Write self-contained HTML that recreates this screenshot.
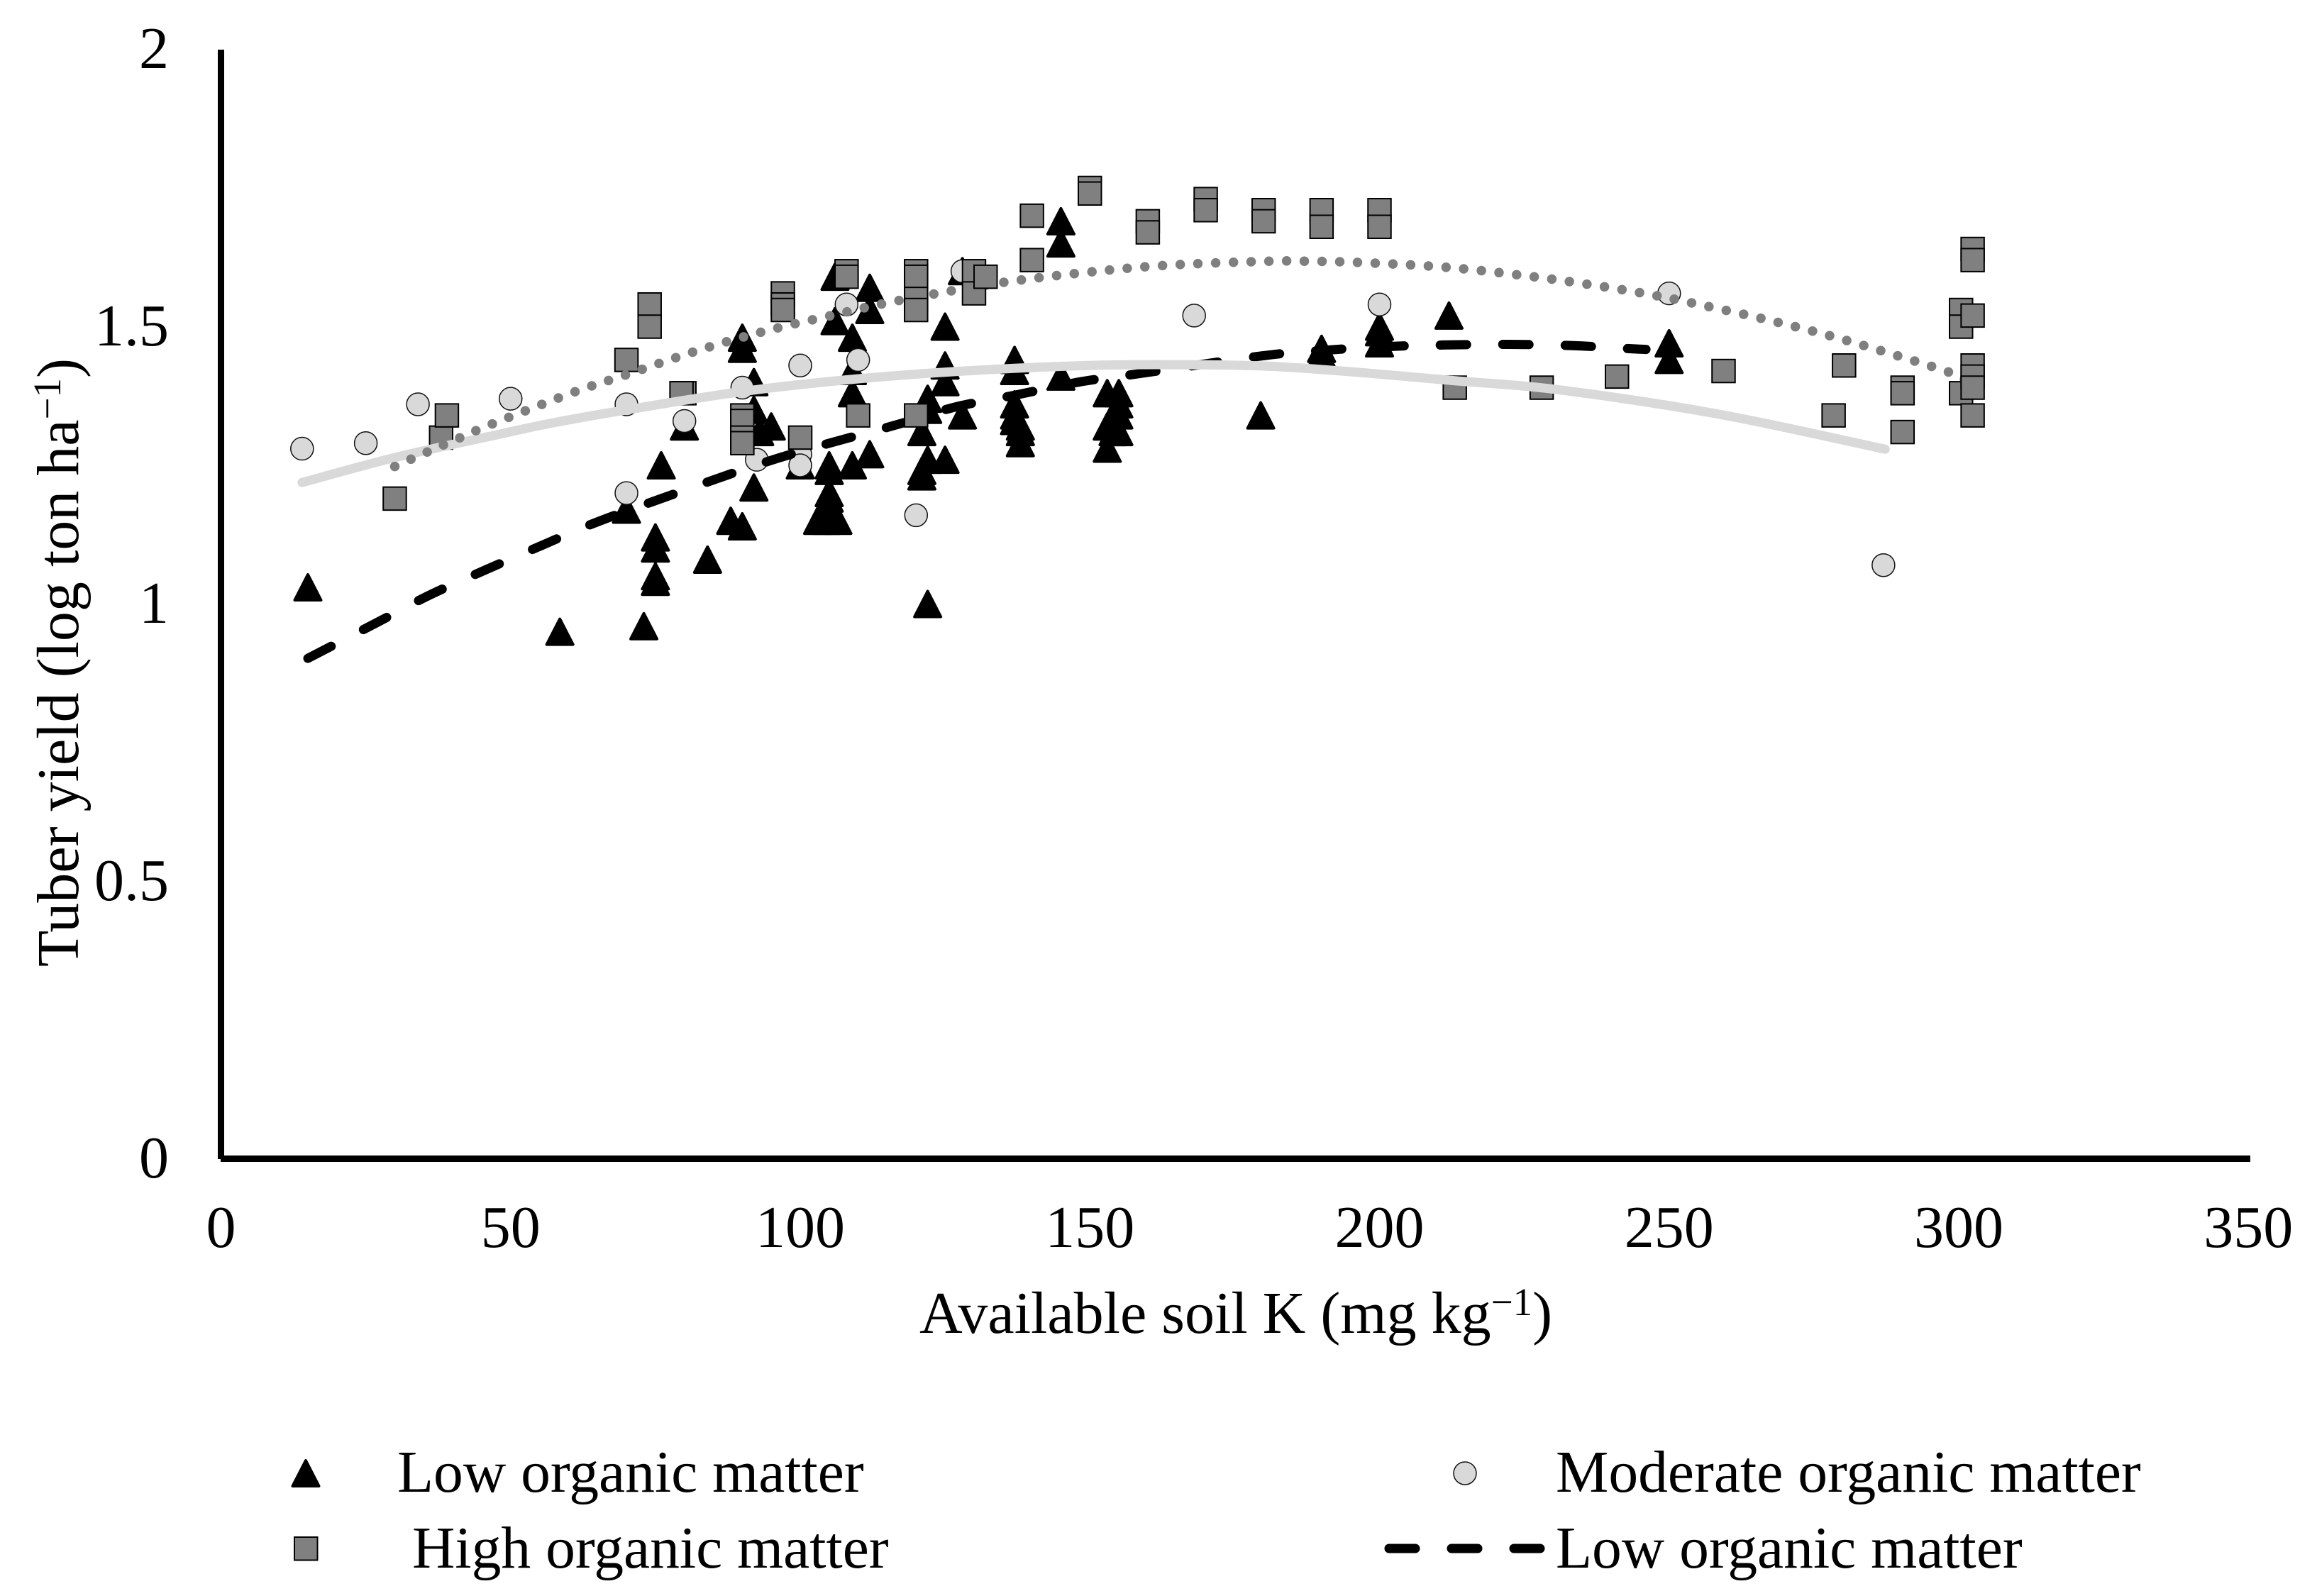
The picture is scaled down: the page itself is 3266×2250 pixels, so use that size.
<!DOCTYPE html>
<html lang="en">
<head>
<meta charset="utf-8">
<title>Tuber yield vs available soil K</title>
<style>
html,body{margin:0;padding:0;background:#fff}
svg{display:block}
text{font-family:"Liberation Serif",serif;font-size:84px;fill:#000}
.legend-text{font-size:83.6px}
</style>
</head>
<body>
<svg id="chart" xmlns="http://www.w3.org/2000/svg" width="3266" height="2250" viewBox="0 0 3266 2250">
  <rect x="0" y="0" width="3266" height="2250" fill="#fff"/>
  <g id="plot"></g>
  <rect x="307" y="70" width="9" height="1564" fill="#000"/>
  <rect x="311" y="1629" width="2861" height="9" fill="#000"/>
  <g id="ticks"></g>
  <text x="1296" y="1879">Available soil K (mg kg<tspan font-size="55" dy="-25">−1</tspan><tspan dy="25">)</tspan></text>
  <text transform="translate(110,1363) rotate(-90)" x="0" y="0">Tuber yield (log ton ha<tspan font-size="55" dy="-25">−1</tspan><tspan dy="25">)</tspan></text>
  <g>
    <polygon points="431,2059 449.5,2095 412.5,2095" fill="#000" stroke="#000" stroke-width="4" stroke-linejoin="round"/>
    <text class="legend-text" x="560" y="2103">Low organic matter</text>
    <circle cx="2065" cy="2077" r="16" fill="#d9d9d9" stroke="#111" stroke-width="1.5"/>
    <text class="legend-text" x="2193" y="2103">Moderate organic matter</text>
    <rect x="415" y="2167" width="32.5" height="32.5" fill="#808080" stroke="#000" stroke-width="2"/>
    <text class="legend-text" x="581" y="2210">High organic matter</text>
    <line x1="1958" y1="2183" x2="2172" y2="2183" stroke="#000" stroke-width="13" stroke-linecap="round" stroke-dasharray="37 51"/>
    <text class="legend-text" x="2193" y="2210">Low organic matter</text>
  </g>
</svg>
<script>
var xTickLabels = [0, 50, 100, 150, 200, 250, 300, 350];
var yTickLabels = [0, 0.5, 1, 1.5, 2];

var lowOmPoints = [
[15,1.03],[58.5,0.95],[73,0.96],[76,1.25],[70,1.17],[75,1.12],[75,1.10],[75,1.05],[75,1.04],[84,1.08],
[88,1.15],[90,1.14],[92,1.21],[95,1.32],[92,1.35],[93,1.31],[92,1.40],[90,1.48],[90,1.46],[80,1.32],
[100,1.25],[105,1.25],[105,1.24],[109,1.25],[112,1.27],[103,1.15],[104.5,1.15],[106.5,1.15],[105,1.17],[105,1.19],
[105,1.20],[106,1.59],[106,1.51],[112,1.57],[112,1.53],[109,1.48],[109,1.38],[109,1.42],[122,1.00],[121,1.23],
[121,1.24],[122,1.26],[125,1.26],[121,1.31],[122,1.37],[122,1.35],[128,1.34],[125,1.50],[125,1.43],[125,1.40],
[128,1.60],[137,1.44],[137,1.42],[137,1.36],[137,1.34],[137,1.33],[138,1.32],[138,1.31],[138,1.29],[145,1.69],
[145,1.65],[145,1.41],[153,1.38],[155,1.38],[153,1.28],[154,1.31],[153,1.32],[154,1.33],[155,1.34],[155,1.31],
[155,1.36],[179.5,1.34],[190,1.46],[190,1.45],[200,1.50],[200,1.47],[200,1.49],[212,1.52],[250,1.47],[250,1.44]
];
var moderateOmPoints = [
[14,1.28],[25,1.29],[34,1.36],[50,1.37],[70,1.36],[70,1.20],[80,1.33],[90,1.39],[92.5,1.26],[100,1.43],
[100,1.27],[100,1.25],[108,1.54],[110,1.44],[120,1.16],[128,1.60],[168,1.52],[200,1.54],[250,1.56],[287,1.07]
];
var highOmBehindPoints = [
[30,1.19],[38,1.30],[39,1.34],[70,1.44],[74,1.54],[74,1.50],[80,1.38],[79.5,1.38],[90,1.34],[90,1.33],
[90,1.30],[90,1.29],[97,1.56],[97,1.54],[97,1.53],[100,1.30],[108,1.60],[108,1.59],[110,1.34],[120,1.34],
[140,1.70],[140,1.62],[150,1.75],[150,1.74],[160,1.69],[160,1.67],[170,1.73],[170,1.71],[180,1.71],[180,1.69],
[190,1.71],[190,1.68],[200,1.71],[200,1.68],[213,1.39],[228,1.39],[241,1.41],[259.4,1.42],[278.4,1.34],[280.2,1.43],
[290.3,1.39],[290.3,1.38],[290.3,1.31],[300.4,1.53],[300.4,1.50],[300.4,1.38],[302.4,1.64],[302.4,1.62],[302.4,1.52]
];
var highOmFrontPoints = [
[120,1.60],[120,1.59],[120,1.55],[120,1.53],[130,1.60],[130,1.56],[132,1.59],[302.4,1.43],[302.4,1.41],[302.4,1.39],[302.4,1.34]
];
var lowOmTrend = [
[15,0.902],[27,0.967],[36,1.016],[46,1.063],[55.7,1.107],[63.5,1.142],[76,1.19],[96.2,1.263],[119,1.33],[126.7,1.355],
[137.3,1.377],[148.6,1.401],[158.3,1.415],[179.5,1.447],[190,1.457],[201,1.464],[211.5,1.467],[222.2,1.468],[233,1.466],[243.7,1.46],[246,1.459]
];
var moderateOmTrend = [
[14,1.219],[30,1.264],[47.6,1.305],[57,1.326],[70,1.35],[90,1.383],[110,1.406],[130,1.421],[150,1.430],[165,1.4315],
[180,1.429],[193.5,1.42],[212.5,1.403],[231,1.386],[258.7,1.342],[287.3,1.279]
];
var highOmTrend = [
[30,1.248],[35.6,1.274],[41.2,1.2995],[46.8,1.3245],[61.2,1.383],[69.9,1.413],[81.4,1.454],[93.2,1.49],[105.3,1.52],[117,1.547],
[135.2,1.58],[153.3,1.602],[165.6,1.612],[181,1.618],[187,1.618],[196,1.616],[211.5,1.607],[226.6,1.59],[238.7,1.572],[247.7,1.556],
[253.8,1.543],[265.7,1.5155],[277.6,1.484],[289.3,1.448],[298,1.419],[301,1.405]
];

var NS = 'http://www.w3.org/2000/svg';
var plot = document.getElementById('plot');
var ticks = document.getElementById('ticks');
function xScale(v) { return 311.5 + v * 8.165; }
function yScale(v) { return 1633.5 - v * 782; }

function smoothPath(points) {
  var p = points.map(function (d) { return [xScale(d[0]), yScale(d[1])]; });
  var s = 'M' + p[0][0].toFixed(1) + ' ' + p[0][1].toFixed(1);
  for (var i = 0; i < p.length - 1; i++) {
    var a = p[Math.max(i - 1, 0)], b = p[i], c = p[i + 1], d = p[Math.min(i + 2, p.length - 1)];
    s += 'C' + (b[0] + (c[0] - a[0]) / 6).toFixed(1) + ' ' + (b[1] + (c[1] - a[1]) / 6).toFixed(1) + ' ' +
         (c[0] - (d[0] - b[0]) / 6).toFixed(1) + ' ' + (c[1] - (d[1] - b[1]) / 6).toFixed(1) + ' ' +
         c[0].toFixed(1) + ' ' + c[1].toFixed(1);
  }
  return s;
}

xTickLabels.forEach(function (v) {
  var el = document.createElementNS(NS, 'text');
  
  
  el.setAttribute('x', xScale(v));
  el.setAttribute('y', 1758);
  el.setAttribute('text-anchor', 'middle');
  el.textContent = v;
  ticks.appendChild(el);
});
yTickLabels.forEach(function (v) {
  var el = document.createElementNS(NS, 'text');
  
  
  el.setAttribute('x', 238);
  el.setAttribute('y', yScale(v) + 26.5);
  el.setAttribute('text-anchor', 'end');
  el.textContent = v;
  ticks.appendChild(el);
});

lowOmPoints.forEach(function (d) {
  var cx = xScale(d[0]), cy = yScale(d[1]);
  var el = document.createElementNS(NS, 'polygon');
  
  
  el.setAttribute('points', cx + ',' + (cy - 18) + ' ' + (cx + 18.5) + ',' + (cy + 18) + ' ' + (cx - 18.5) + ',' + (cy + 18));
  el.setAttribute('fill', '#000');
  el.setAttribute('stroke', '#000');
  el.setAttribute('stroke-width', '4');
  el.setAttribute('stroke-linejoin', 'round');
  plot.appendChild(el);
});

moderateOmPoints.forEach(function (d) {
  var el = document.createElementNS(NS, 'circle');
  
  
  el.setAttribute('cx', xScale(d[0]));
  el.setAttribute('cy', yScale(d[1]));
  el.setAttribute('r', 16);
  el.setAttribute('fill', '#d9d9d9');
  el.setAttribute('stroke', '#111');
  el.setAttribute('stroke-width', '1.5');
  plot.appendChild(el);
});

var dashed = document.createElementNS(NS, 'path');


dashed.setAttribute('d', smoothPath(lowOmTrend));
dashed.setAttribute('fill', 'none');
dashed.setAttribute('stroke', '#000');
dashed.setAttribute('stroke-width', '13');
dashed.setAttribute('stroke-linecap', 'round');
dashed.setAttribute('stroke-dasharray', '37 51');
plot.appendChild(dashed);

highOmBehindPoints.forEach(function (d) {
  var el = document.createElementNS(NS, 'rect');
  
  
  el.setAttribute('x', xScale(d[0]) - 16.25);
  el.setAttribute('y', yScale(d[1]) - 16.25);
  el.setAttribute('width', 32.5);
  el.setAttribute('height', 32.5);
  el.setAttribute('fill', '#808080');
  el.setAttribute('stroke', '#000');
  el.setAttribute('stroke-width', '2');
  plot.appendChild(el);
});

var solid = document.createElementNS(NS, 'path');


solid.setAttribute('d', smoothPath(moderateOmTrend));
solid.setAttribute('fill', 'none');
solid.setAttribute('stroke', '#d9d9d9');
solid.setAttribute('stroke-width', '13');
solid.setAttribute('stroke-linecap', 'round');
plot.appendChild(solid);

var dotted = document.createElementNS(NS, 'path');


dotted.setAttribute('d', smoothPath(highOmTrend));
dotted.setAttribute('fill', 'none');
dotted.setAttribute('stroke', '#7f7f7f');
dotted.setAttribute('stroke-width', '13.5');
dotted.setAttribute('stroke-linecap', 'round');
dotted.setAttribute('stroke-dasharray', '0 25');
plot.appendChild(dotted);

highOmFrontPoints.forEach(function (d) {
  var el = document.createElementNS(NS, 'rect');
  
  
  el.setAttribute('x', xScale(d[0]) - 16.25);
  el.setAttribute('y', yScale(d[1]) - 16.25);
  el.setAttribute('width', 32.5);
  el.setAttribute('height', 32.5);
  el.setAttribute('fill', '#808080');
  el.setAttribute('stroke', '#000');
  el.setAttribute('stroke-width', '2');
  plot.appendChild(el);
});
</script>
</body>
</html>
